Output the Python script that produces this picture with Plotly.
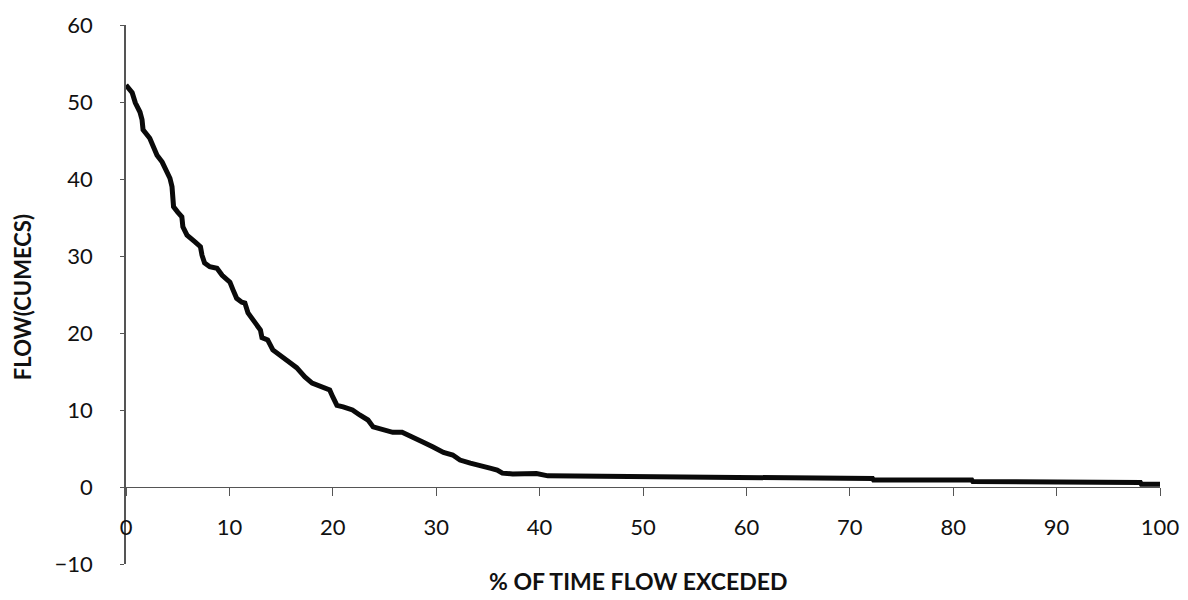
import plotly.graph_objects as go

# % of time flow exceeded
pct_time = [0, 0.1, 0.6, 0.9, 1.35, 1.55, 1.65, 2.3, 2.6, 3.0, 3.5, 3.8, 4.25, 4.45, 4.55, 4.6,
             5.0, 5.4, 5.5, 5.9, 6.7, 7.2, 7.35, 7.6, 8.1, 8.8, 9.3, 9.8, 10.05, 10.35, 10.7,
             11.2, 11.5, 11.8, 12.5, 13.0, 13.15, 13.7, 14.2, 15.1, 15.9, 16.5, 17.3, 18.0,
             18.8, 19.7, 20.0, 20.4, 21.0, 21.9, 22.6, 23.4, 23.9, 24.9, 25.8, 26.7, 27.2,
             28.1, 28.7, 29.7, 30.7, 31.6, 32.3, 33.3, 34.2, 35.2, 35.9, 36.4, 37.4, 39.7,
             40.8, 45.5, 46.1, 56.7, 56.8, 65.5, 65.6, 72.2, 72.3, 81.8, 81.9, 89.2, 98.1,
             98.2, 100]
# Flow (cumecs)
flow = [52.2, 52.0, 51.2, 49.9, 48.7, 47.7, 46.4, 45.3, 44.2, 43.1, 42.2, 41.2, 40.1, 39.0,
        37.7, 36.4, 35.7, 35.1, 33.8, 32.7, 31.8, 31.2, 30.1, 29.1, 28.6, 28.4, 27.5, 27.0,
        26.6, 25.6, 24.5, 24.0, 23.9, 22.6, 21.4, 20.4, 19.4, 19.1, 17.8, 16.8, 16.1, 15.5,
        14.3, 13.5, 13.0, 12.6, 11.7, 10.6, 10.4, 10.0, 9.35, 8.7, 7.8, 7.4, 7.1, 7.1, 6.75,
        6.1, 5.85, 5.2, 4.5, 4.15, 3.5, 3.1, 2.85, 2.45, 2.2, 1.8, 1.7, 1.75, 1.45, 1.4,
        1.3, 1.3, 1.2, 1.2, 1.1, 1.1, 0.9, 0.9, 0.7, 0.65, 0.6, 0.35, 0.35]

x_ticks = [0, 10, 20, 30, 40, 50, 60, 70, 80, 90, 100]
y_ticks = [-10, 0, 10, 20, 30, 40, 50, 60]

FONT = "Lato, 'Open Sans', sans-serif"
INK = "#111111"

fig = go.Figure()
fig.add_trace(go.Scatter(x=pct_time, y=flow, mode="lines",
                         line=dict(color="#0a0a0a", width=5), showlegend=False))

fig.update_layout(
    width=1188, height=600,
    margin=dict(l=118, r=36, t=17, b=44),
    paper_bgcolor="white", plot_bgcolor="white",
    font=dict(family=FONT, color=INK, size=22),
    xaxis=dict(range=[0, 100], tickvals=x_ticks, showgrid=False, zeroline=False,
               showline=True, linecolor="#555", linewidth=1.2, automargin=False,
               ticks="outside", ticklen=8, tickcolor="#555",
               anchor="free", position=10 / 70, ticklabelstandoff=12,
               tickfont=dict(size=22, color=INK, family=FONT)),
    yaxis=dict(range=[-10, 60], tickvals=y_ticks, showgrid=False, zeroline=False,
               showline=True, linecolor="#555", linewidth=1.5, automargin=False,
               ticks="outside", ticklen=4, tickcolor="#555", ticklabelstandoff=23,
               tickfont=dict(size=22, color=INK, family=FONT)),
    annotations=[
        dict(text="<b>% OF TIME FLOW EXCEDED</b>", xref="paper", yref="paper",
             x=0.495, y=-0.0315, xanchor="center", yanchor="middle", showarrow=False,
             font=dict(size=23, color=INK, family=FONT)),
        dict(text="<b>FLOW(CUMECS)</b>", xref="paper", yref="paper",
             x=-0.1006, y=0.495, xanchor="center", yanchor="middle", showarrow=False,
             textangle=-90, font=dict(size=22, color=INK, family=FONT)),
    ],
)

fig.write_html("out.html")
